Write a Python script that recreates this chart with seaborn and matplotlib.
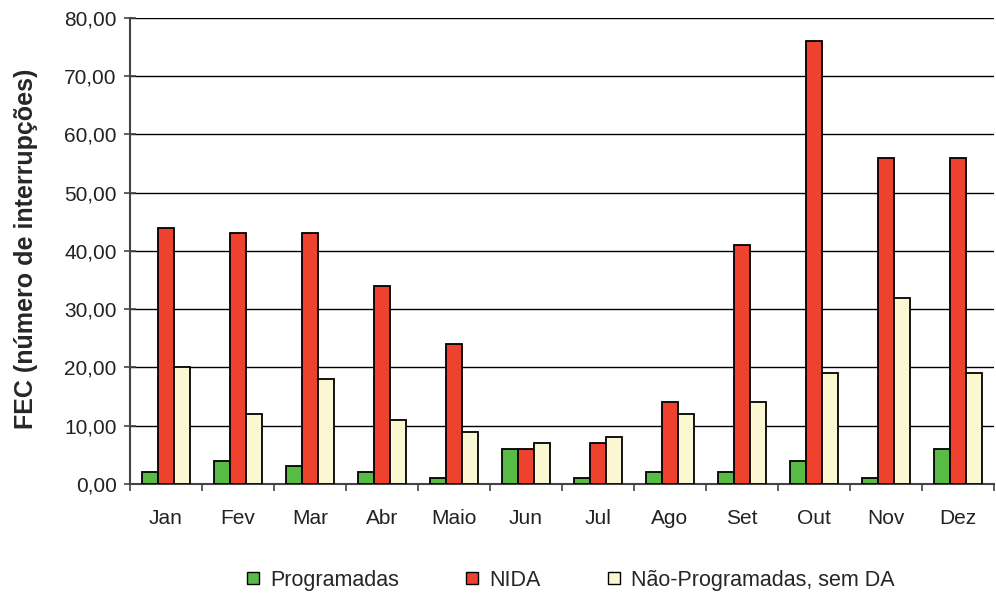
import matplotlib
matplotlib.use("Agg")
import matplotlib.pyplot as plt
from matplotlib.lines import Line2D
import seaborn as sns
import pandas as pd

meses = ["Jan", "Fev", "Mar", "Abr", "Maio", "Jun", "Jul", "Ago", "Set", "Out", "Nov", "Dez"]
programadas = [2, 4, 3, 2, 1, 6, 1, 2, 2, 4, 1, 6]
nida = [44, 43, 43, 34, 24, 6, 7, 14, 41, 76, 56, 56]
nao_programadas = [20, 12, 18, 11, 9, 7, 8, 12, 14, 19, 32, 19]
series = ["Programadas", "NIDA", "Não-Programadas, sem DA"]
cores = ["#57BB46", "#EE412E", "#FBF7D2"]
y_ticks = [0, 10, 20, 30, 40, 50, 60, 70, 80]

df = pd.DataFrame({
    "mes": meses * 3,
    "serie": [series[0]] * 12 + [series[1]] * 12 + [series[2]] * 12,
    "valor": programadas + nida + nao_programadas,
})

sns.set_theme(style="white")
plt.rcParams["font.family"] = ["Liberation Sans", "DejaVu Sans"]

fig = plt.figure(figsize=(9.96, 5.96), dpi=100)
ax = fig.add_axes([0.1305, 0.188, 0.8675, 0.782])

sns.barplot(data=df, x="mes", y="valor", hue="serie", order=meses,
            hue_order=series, palette=cores, saturation=1, width=0.67,
            edgecolor="black", linewidth=1.3, ax=ax, legend=False, zorder=3)

ax.set_xlim(-0.5, 11.5)
ax.set_ylim(0, 80)
ax.set_yticks(y_ticks)
ax.set_yticklabels([f"{v:.2f}".replace(".", ",") for v in y_ticks], fontsize=15, color="#222222")
ax.yaxis.grid(True, color="black", linewidth=1.0, zorder=0)
ax.set_axisbelow(True)

ax.set_xticks(range(len(meses)))
ax.set_xticklabels(meses, fontsize=15, color="#222222")
ax.set_xticks([i - 0.5 for i in range(len(meses) + 1)], minor=True)
ax.tick_params(axis="x", which="major", length=0, pad=18)
ax.tick_params(axis="x", which="minor", length=5, width=1.2, color="#444444", direction="out", bottom=True)
ax.tick_params(axis="y", length=9, width=1.2, color="#444444", direction="inout", left=True, pad=5)

for s in ["top", "right"]:
    ax.spines[s].set_visible(False)
for s in ["left", "bottom"]:
    ax.spines[s].set_color("#444444")
    ax.spines[s].set_linewidth(1.5)

ax.set_xlabel("")
ax.set_ylabel("FEC (número de interrupções)", fontsize=18, fontweight="bold")
ax.yaxis.set_label_coords(-0.106, 0.504)

handles = [Line2D([0], [0], marker="s", linestyle="none", markersize=9,
                  markerfacecolor=c, markeredgecolor="black", markeredgewidth=1.0)
           for c in cores]
fig.legend(handles, series, loc="center", bbox_to_anchor=(0.571, 0.026), ncol=3,
           frameon=False, fontsize=15.5, handletextpad=0.3, columnspacing=2.9,
           handlelength=1.0)

fig.savefig("out.png", dpi=100)
